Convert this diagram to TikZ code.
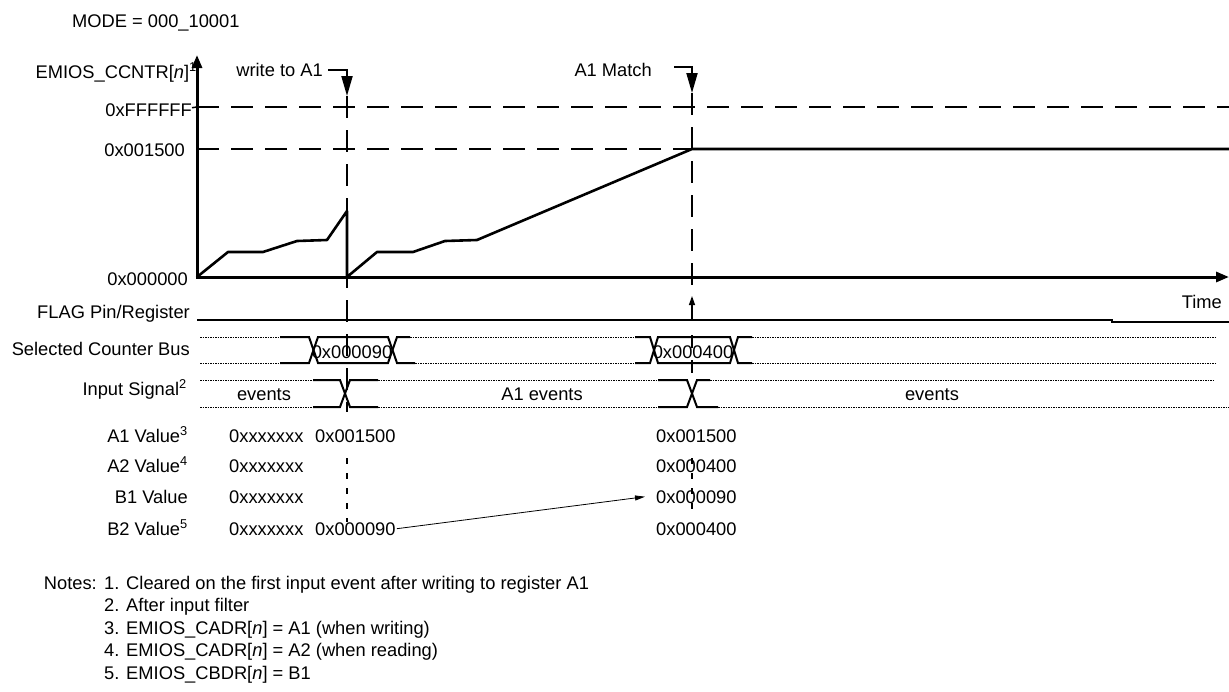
\documentclass[tikz,border=0pt]{standalone}
\usepackage{fontspec}
\setmainfont{Liberation Sans}
\usetikzlibrary{arrows.meta}
\begin{document}
\begin{tikzpicture}[x=1pt,y=-1pt,
  lbl/.style={font=\fontsize{18.3}{22}\selectfont, inner sep=0pt},
  axis/.style={line width=3pt},
  curve/.style={line width=2.6pt, line join=round},
  guide/.style={line width=2pt, dash pattern=on 22pt off 12pt},
  shortdash/.style={line width=2pt, dash pattern=on 6pt off 9pt},
  sig/.style={line width=2pt},
  dots/.style={line width=1pt, dash pattern=on 1.5pt off 1pt},
  marker/.style={line width=2pt, -{Triangle[length=20pt,width=11pt]}},
  bigtip/.style={-{Triangle[length=13pt,width=10pt]}}
]
\useasboundingbox (0,0) rectangle (1229,691);

% title
\node[lbl,anchor=base west] (mode) at (72,27) {MODE = 000\_10001};

% axes
\coordinate (O) at (197,277);
\coordinate (ytop) at (197,55);
\coordinate (xend) at (1229,277);
\draw[axis,bigtip] (O) -- (ytop);
\draw[axis,bigtip] (195.5,277) -- (xend);

% axis labels
\node[lbl,anchor=base east] (ylbl) at (197,78) {EMIOS\_CCNTR[\textit{n}]\textsuperscript{1}};
\node[lbl,anchor=base east] (yff) at (192,116) {0xFFFFFF};
\node[lbl,anchor=base east] (y15) at (185,156) {0x001500};
\node[lbl,anchor=base east] (y00) at (188,285) {0x000000};
\node[lbl,anchor=base east] (time) at (1222,308) {Time};
\draw[line width=1.5pt] (yff.east) ++(0,-2) -- (197,107);

% guide lines
\draw[guide] (197,107) -- (1229,107);
\draw[guide] (197,149) -- (692,149);

% counter curve
\draw[curve] (197,277) -- (228,252) -- (263,252) -- (297,241) -- (327,240)
  -- (347,211) -- (347,277) -- (377,252) -- (413,252) -- (445,241)
  -- (477,240) -- (692,149) -- (1229,149);

% event markers
\node[lbl,anchor=base east] (wA1) at (323,76) {write to A1};
\coordinate (wtip) at (347,96);
\draw[marker] ([xshift=5pt,yshift=-1pt]wA1.east) -| (wtip);
\node[lbl,anchor=base east] (mA1) at (652,76) {A1 Match};
\coordinate (m0) at (674,67);
\coordinate (mtip) at (692,93);
\draw[marker] (m0) -| (mtip);

% vertical guides
\draw[guide, line width=1.8pt] (347,96) -- (347,412);
\draw[shortdash] (347,458) -- (347,522);
\draw[guide, line width=1.8pt] (692,93) -- (692,292);
\coordinate (flagup) at (692,296);
\draw[line width=1.3pt, -{Triangle[length=9pt,width=6pt]}] (692,320) -- (flagup);
\draw[line width=1.8pt, dash pattern=on 13pt off 12pt] (692,335) -- (692,375);
\draw[shortdash] (692,458) -- (692,516);

% row labels
\node[lbl,anchor=base east] (flag) at (190,318) {FLAG Pin/Register};
\node[lbl,anchor=base east] (scb) at (190,355) {Selected Counter Bus};
\node[lbl,anchor=base east] (ins) at (187,395) {Input Signal\textsuperscript{2}};
\node[lbl,anchor=base east] (a1) at (188,442) {A1 Value\textsuperscript{3}};
\node[lbl,anchor=base east] (a2) at (188,472) {A2 Value\textsuperscript{4}};
\node[lbl,anchor=base east] (b1) at (188,503) {B1 Value};
\node[lbl,anchor=base east] (b2) at (188,535) {B2 Value\textsuperscript{5}};

% FLAG
\draw[sig] (197,320) -- (1112,320) -- (1112,322) -- (1229,322);

% selected counter bus
\draw[dots] (200,337) -- (280,337) (200,363) -- (280,363);
\draw[sig] (280,337) -- (309,337) -- (318,363) -- (388,363) -- (397,337) -- (410,337);
\draw[sig] (280,363) -- (309,363) -- (318,337) -- (388,337) -- (397,363) -- (415,363);
\draw[dots] (410,337) -- (635,337) (415,363) -- (635,363);
\draw[sig] (635,337) -- (650,337) -- (658,363) -- (730,363) -- (738,337) -- (752,337);
\draw[sig] (635,363) -- (650,363) -- (658,337) -- (730,337) -- (738,363) -- (752,363);
\draw[dots] (752,337) -- (1215,337) (752,363) -- (1215,363);
\node[lbl,anchor=base] (bus1) at (352,358) {0x000090};
\node[lbl,anchor=base] (bus2) at (693,358) {0x000400};

% input signal
\draw[dots] (200,380) -- (313,380) (200,407) -- (313,407);
\draw[sig] (313,380) -- (340,380) -- (350,407) -- (378,407);
\draw[sig] (313,407) -- (340,407) -- (350,380) -- (378,380);
\draw[dots] (378,380) -- (658,380) (378,407) -- (658,407);
\draw[sig] (658,380) -- (687,380) -- (697,407) -- (718,407);
\draw[sig] (658,407) -- (687,407) -- (697,380) -- (710,380);
\draw[dots] (710,380) -- (1215,380) (718,407) -- (1229,407);
\node[lbl,anchor=base] (ev1) at (264,400) {events};
\node[lbl,anchor=base] (ev2) at (542,400) {A1 events};
\node[lbl,anchor=base] (ev3) at (932,400) {events};

% register values
\node[lbl,anchor=base west] (a1x) at (229,442) {0xxxxxxx};
\node[lbl,anchor=base west] (a2x) at (229,472) {0xxxxxxx};
\node[lbl,anchor=base west] (b1x) at (229,503) {0xxxxxxx};
\node[lbl,anchor=base west] (b2x) at (229,535) {0xxxxxxx};
\node[lbl,anchor=base west] (a1w) at (315,442) {0x001500};
\node[lbl,anchor=base west] (b2w) at (315,535) {0x000090};
\node[lbl,anchor=base west] (a1r) at (656,442) {0x001500};
\node[lbl,anchor=base west] (a2r) at (656,472) {0x000400};
\node[lbl,anchor=base west] (b1r) at (656,503) {0x000090};
\node[lbl,anchor=base west] (b2r) at (656,535) {0x000400};
\draw[line width=0.8pt, -{Triangle[length=10pt,width=5pt]}] ([xshift=1pt]b2w.east) -- ([xshift=-11pt]b1r.west);

% notes
\node[lbl,anchor=base east] (notes) at (97,589) {Notes:};
\node[lbl,anchor=base west] (n1) at (104,589) {1. Cleared on the first input event after writing to register A1};
\node[lbl,anchor=base west] (n2) at (104,611) {2. After input filter};
\node[lbl,anchor=base west] (n3) at (104,634) {3. EMIOS\_CADR[\textit{n}] = A1 (when writing)};
\node[lbl,anchor=base west] (n4) at (104,656) {4. EMIOS\_CADR[\textit{n}] = A2 (when reading)};
\node[lbl,anchor=base west] (n5) at (104,679) {5. EMIOS\_CBDR[\textit{n}] = B1};
\end{tikzpicture}
\end{document}
